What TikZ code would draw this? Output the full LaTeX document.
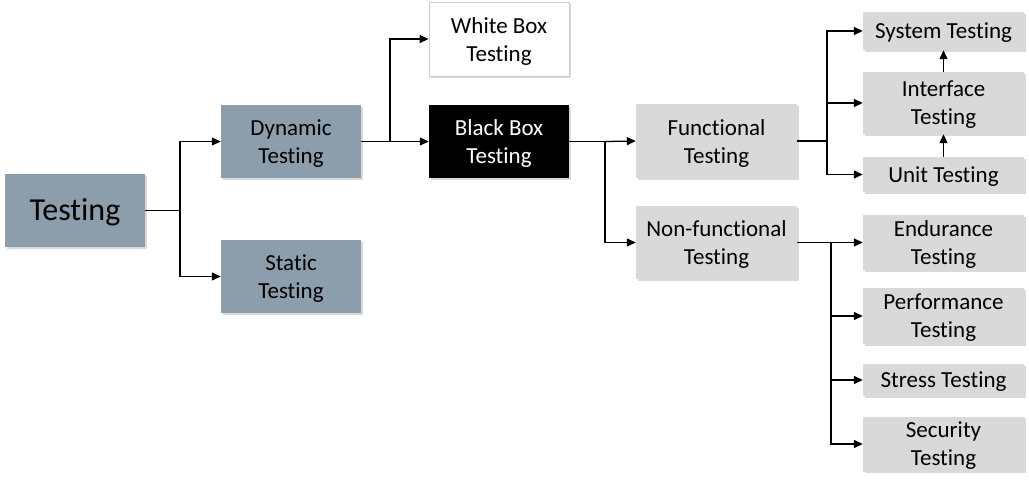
\documentclass[tikz,border=0pt]{standalone}
\usepackage{fontspec}
\setmainfont{Carlito}[RawFeature={-liga,-clig,-calt,-dlig}]
\usetikzlibrary{arrows.meta,shadows}
\definecolor{slate}{HTML}{8C9DAB}
\definecolor{lgray}{HTML}{D9D9D9}
\definecolor{wborder}{HTML}{CCCCCC}
\tikzset{
  lbl/.style={inner sep=0pt, align=center, font=\fontsize{23}{28}\selectfont, yshift=-2pt},
  box/.style={inner sep=0pt,
    drop shadow={shadow xshift=1.5pt, shadow yshift=-1.5pt, fill=black!25, opacity=0.6}},
  txt/.style={label={[lbl]center:#1}},
  wtxt/.style={label={[lbl,text=white]center:#1}},
  slatebox/.style={box, fill=slate},
  graybox/.style={box, fill=lgray},
  whitebox/.style={box, fill=white, draw=wborder, line width=0.8pt},
  blackbox/.style={box, fill=black},
  conn/.style={line width=1.3pt, black},
  arr/.style={conn, -{Triangle[length=9pt,width=8pt]}},
}
\begin{document}
\begin{tikzpicture}[x=1pt,y=-1pt]
\useasboundingbox (0,0) rectangle (1029,485);
% level 0/1
\node[slatebox, minimum width=140, minimum height=73,
  label={[lbl,font=\fontsize{32}{38}\selectfont]center:Testing}] (t) at (75,210.5) {};
\node[slatebox, minimum width=140, minimum height=73, txt={Dynamic\\Testing}] (dyn) at (291,141.5) {};
\node[slatebox, minimum width=140, minimum height=73, txt={Static\\Testing}] (sta) at (291,276.5) {};
% level 2
\node[whitebox, minimum width=140, minimum height=74, txt={White Box\\Testing}] (wb) at (499,39) {};
\node[blackbox, minimum width=140, minimum height=73, wtxt={Black Box\\Testing}] (bb) at (499,141.5) {};
% level 3
\node[graybox, minimum width=161, minimum height=74, txt={Functional\\Testing}] (fun) at (716.5,141) {};
\node[graybox, minimum width=161, minimum height=73, txt={Non-functional\\Testing}] (nf) at (716.5,242.5) {};
% level 4 functional
\node[graybox, minimum width=161, minimum height=38, txt={System Testing}] (sys) at (943.5,31) {};
\node[graybox, minimum width=161, minimum height=62, txt={Interface\\Testing}] (int) at (943.5,103) {};
\node[graybox, minimum width=161, minimum height=35, txt={Unit Testing}] (unit) at (943.5,174.5) {};
% level 4 non-functional
\node[graybox, minimum width=161, minimum height=55, txt={Endurance\\Testing}] (end) at (943.5,242.5) {};
\node[graybox, minimum width=161, minimum height=56, txt={Performance\\Testing}] (perf) at (943.5,316) {};
\node[graybox, minimum width=161, minimum height=32, txt={Stress Testing}] (str) at (943.5,380) {};
\node[graybox, minimum width=161, minimum height=55, txt={Security\\Testing}] (sec) at (943.5,444) {};
% junctions
\coordinate (j1) at (180,210.5);
\coordinate (j2) at (390,141.5);
\coordinate (j3) at (605,141.5);
\coordinate (j4) at (827,141);
\coordinate (j5) at (831,242.5);
% connectors
\draw[conn] (t.east) -- (j1);
\draw[arr] (j1) |- (dyn.west);
\draw[arr] (j1) |- (sta.west);
\draw[conn] (dyn.east) -- (j2);
\draw[arr] (j2) -- (bb.west);
\draw[arr] (j2) |- (wb.west);
\draw[conn] (bb.east) -- (j3);
\draw[arr] (j3) -- (fun.west);
\draw[arr] (j3) |- (nf.west);
\draw[conn] (fun.east) -- (j4);
\draw[arr] (j4) |- (sys.west);
\draw[arr] (j4) |- (int.west);
\draw[arr] (j4) |- (unit.west);
\draw[conn] (nf.east) -- (j5);
\draw[arr] (j5) -- (end.west);
\draw[arr] (j5) |- (perf.west);
\draw[arr] (j5) |- (str.west);
\draw[arr] (j5) |- (sec.west);
\draw[arr] (unit.north) -- (int.south);
\draw[arr] (int.north) -- (sys.south);
\end{tikzpicture}
\end{document}
